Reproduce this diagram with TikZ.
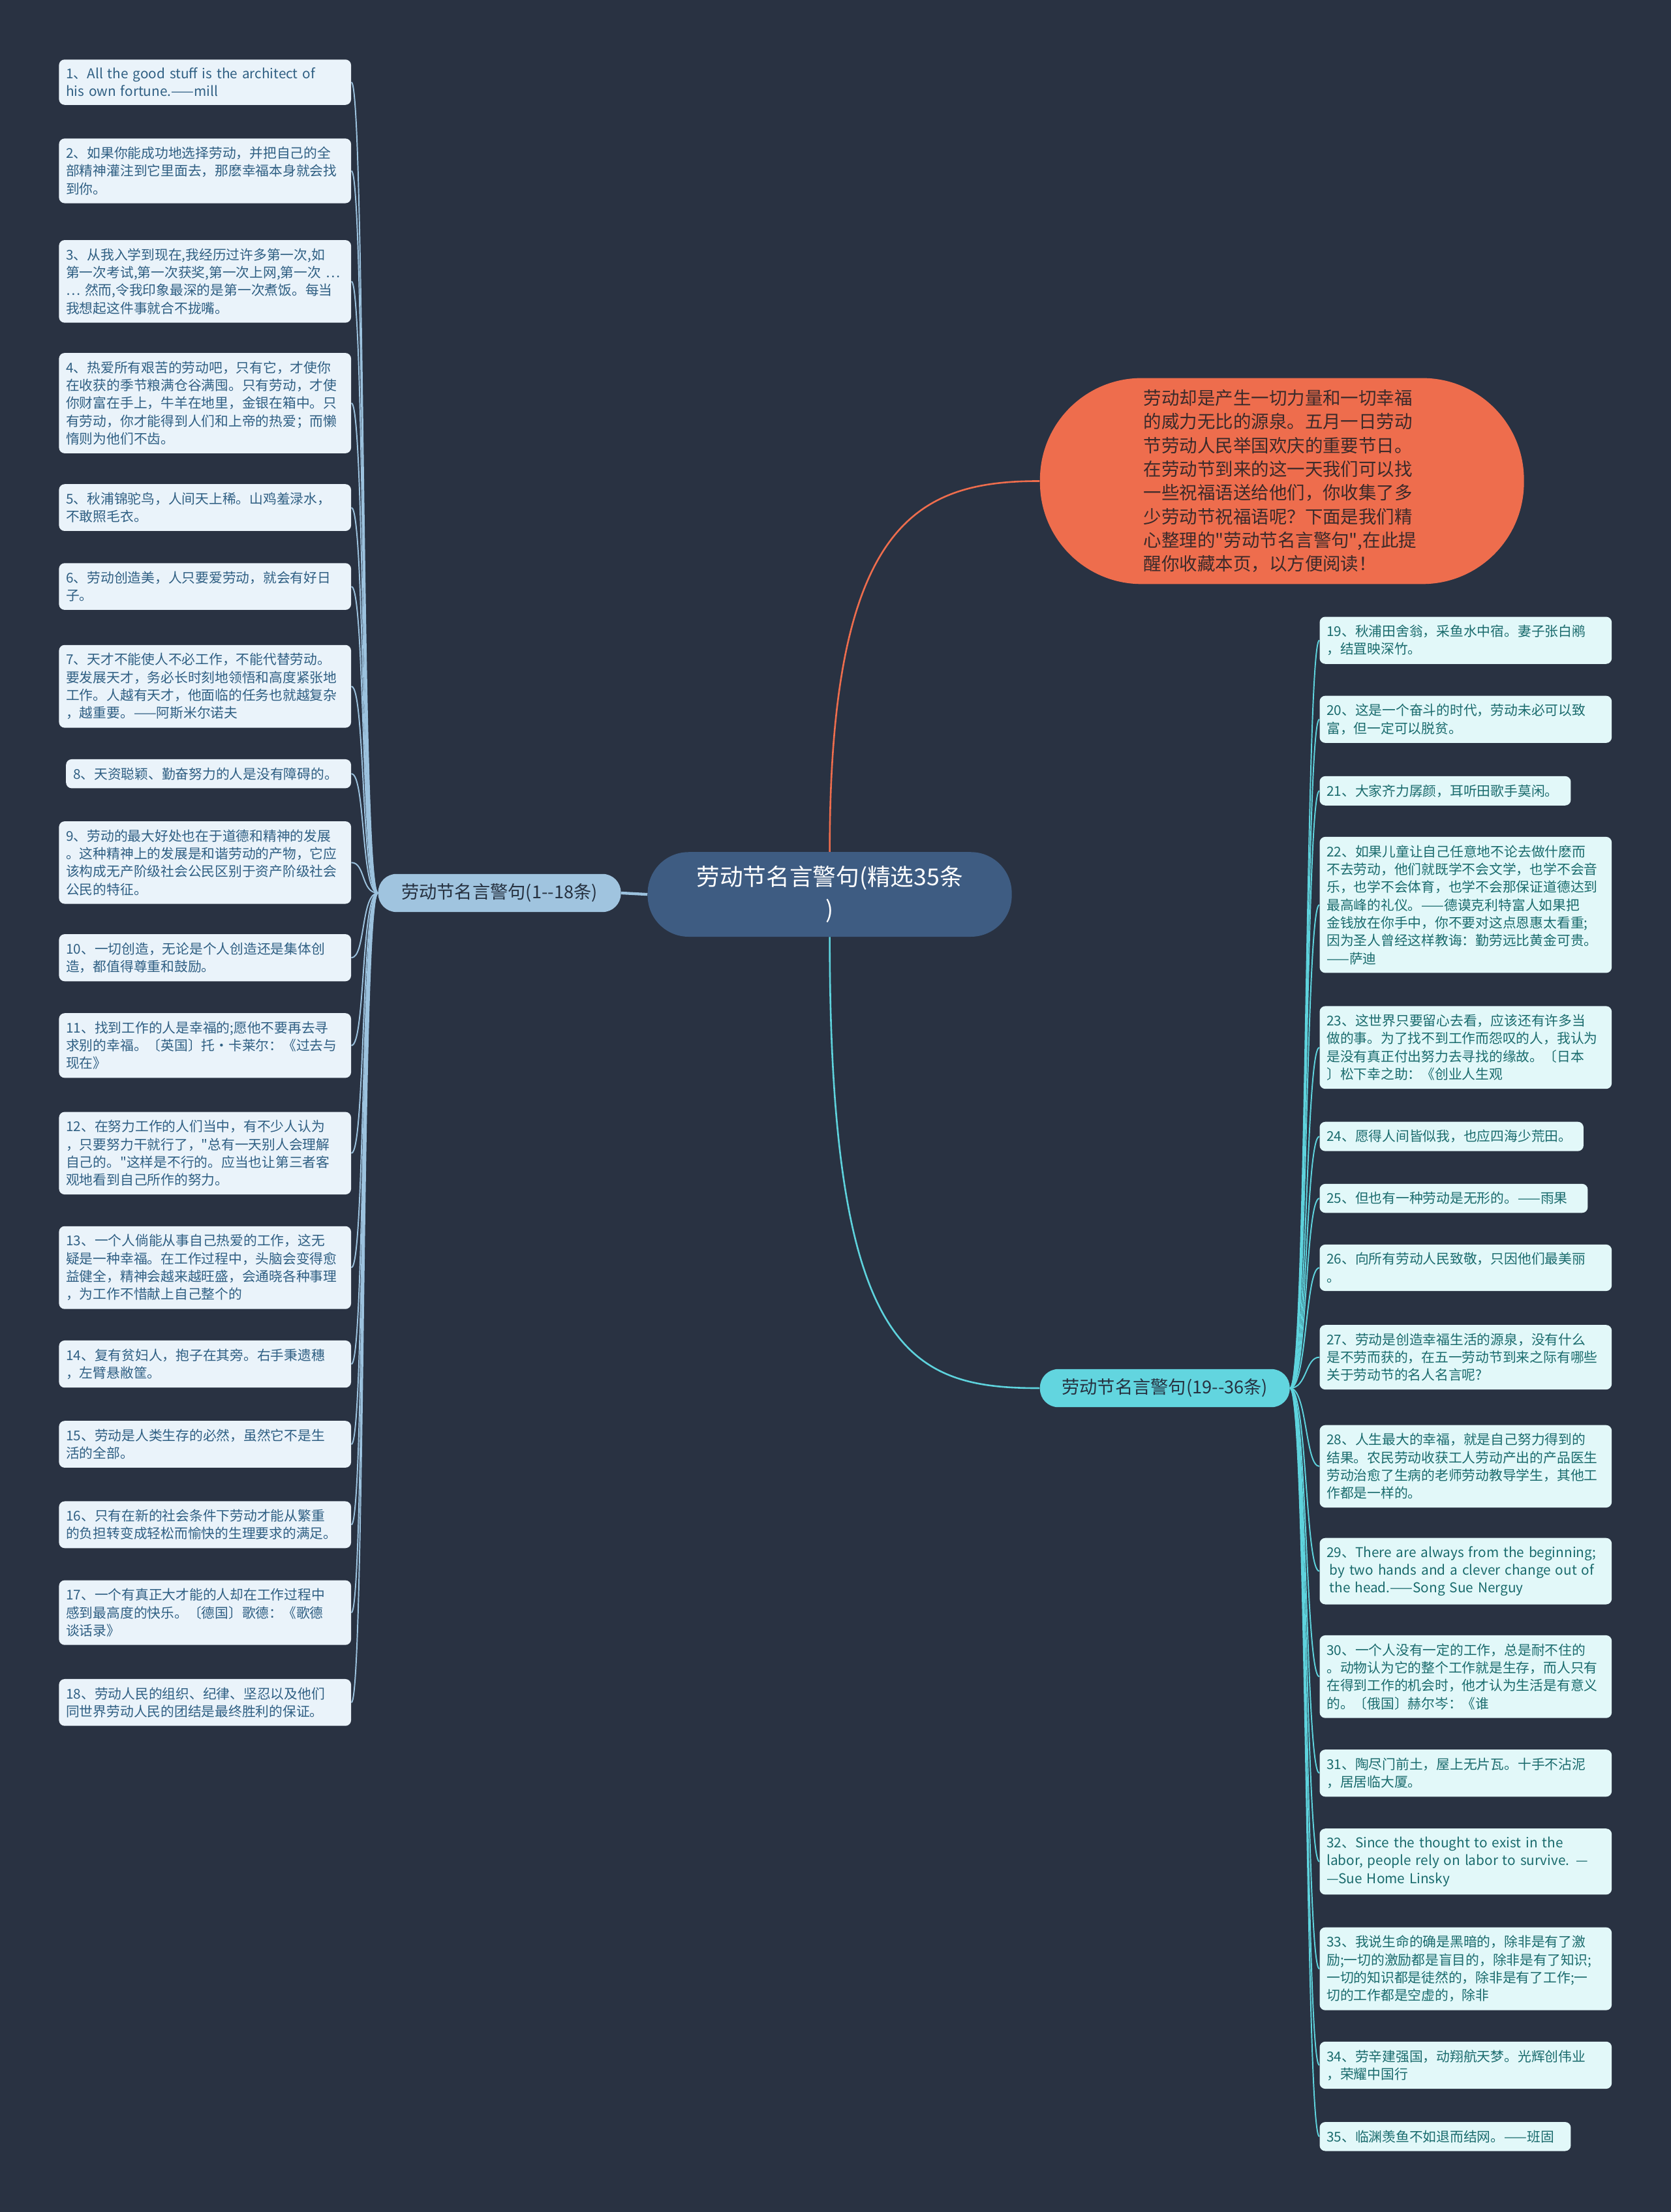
\documentclass[tikz,border=0pt]{standalone}
\usepackage{fontspec}
\setmainfont{Noto Sans CJK SC}
\usetikzlibrary{positioning}
\definecolor{bgnavy}{HTML}{293242}
\definecolor{hubfill}{HTML}{3E5C82}
\definecolor{lsubfill}{HTML}{A0C4DF}
\definecolor{rsubfill}{HTML}{62D5DF}
\definecolor{subtext}{HTML}{263140}
\definecolor{introfill}{HTML}{EE6D4D}
\definecolor{introtext}{HTML}{3B2A2A}
\definecolor{lleaffill}{HTML}{EAF3FA}
\definecolor{lleaftext}{HTML}{2F5F83}
\definecolor{rleaffill}{HTML}{E2F8F9}
\definecolor{rleaftext}{HTML}{1A6B6D}
\definecolor{lwire}{HTML}{9CC2DE}
\definecolor{rwire}{HTML}{5ED3DD}

\begin{document}
\begin{tikzpicture}[x=1pt, y=-1pt,
    leaf/.style={rectangle, rounded corners=4pt, text width=197pt, align=left,
                 inner xsep=5pt, inner ysep=5.8pt,
                 font=\fontsize{9.6}{12.65}\selectfont},
    lleaf/.style={leaf, fill=lleaffill, text=lleaftext, anchor=north east},
    rleaf/.style={leaf, fill=rleaffill, text=rleaftext, anchor=north west},
    subnode/.style={rectangle, rounded corners=13pt, minimum height=27pt,
                    inner sep=0pt, text=subtext, font=\fontsize{12.6}{15}\selectfont},
    lwireline/.style={draw=lwire, line width=0.9pt},
    rwireline/.style={draw=rwire, line width=0.9pt}
  ]
    \fill[bgnavy] (0,0) rectangle (1184,1568);
    \useasboundingbox (0,0) rectangle (1184,1568);

    % centre and branches
    \node[rectangle, fill=hubfill, rounded corners=29pt, minimum width=258pt,
          minimum height=60pt, align=center, text=white,
          font=\fontsize{16.5}{23}\selectfont] (hub) at (588,634)
          {劳动节名言警句(精选35条\\)};

    \node[subnode, fill=lsubfill, minimum width=172pt] (lsub) at (354,633)
          {劳动节名言警句(1-{}-18条)};
    \node[subnode, fill=rsubfill, minimum width=177pt] (rsub) at (825.5,984)
          {劳动节名言警句(19-{}-36条)};

    \node[rectangle, fill=introfill, rounded corners=72pt, minimum width=343pt,
          minimum height=146pt, text width=196pt, align=left, text=introtext,
          font=\fontsize{12.7}{16.8}\selectfont] (intro) at (908.5,341)
          {劳动却是产生一切力量和一切幸福\\的威力无比的源泉。五月一日劳动\\节劳动人民举国欢庆的重要节日。\\在劳动节到来的这一天我们可以找\\一些祝福语送给他们，你收集了多\\少劳动节祝福语呢？下面是我们精\\心整理的\textquotedbl 劳动节名言警句\textquotedbl ,在此提\\醒你收藏本页，以方便阅读！};

    % left leaves
    \node[lleaf] (l1) at (249,42) {1、All the good stuff is the architect of\\his own fortune.——mill};
    \node[lleaf] (l2) at (249,98) {2、如果你能成功地选择劳动，并把自己的全\\部精神灌注到它里面去，那麽幸福本身就会找\\到你。};
    \node[lleaf] (l3) at (249,170) {3、从我入学到现在,我经历过许多第一次,如\\第一次考试,第一次获奖,第一次上网,第一次 …\\… 然而,令我印象最深的是第一次煮饭。每当\\我想起这件事就合不拢嘴。};
    \node[lleaf] (l4) at (249,250) {4、热爱所有艰苦的劳动吧，只有它，才使你\\在收获的季节粮满仓谷满囤。只有劳动，才使\\你财富在手上，牛羊在地里，金银在箱中。只\\有劳动，你才能得到人们和上帝的热爱；而懒\\惰则为他们不齿。};
    \node[lleaf] (l5) at (249,343) {5、秋浦锦驼鸟，人间天上稀。山鸡羞渌水，\\不敢照毛衣。};
    \node[lleaf] (l6) at (249,399) {6、劳动创造美，人只要爱劳动，就会有好日\\子。};
    \node[lleaf] (l7) at (249,457) {7、天才不能使人不必工作，不能代替劳动。\\要发展天才，务必长时刻地领悟和高度紧张地\\工作。人越有天才，他面临的任务也就越复杂\\，越重要。——阿斯米尔诺夫};
    \node[lleaf, text width=192pt] (l8) at (249,538) {8、天资聪颖、勤奋努力的人是没有障碍的。};
    \node[lleaf] (l9) at (249,582) {9、劳动的最大好处也在于道德和精神的发展\\。这种精神上的发展是和谐劳动的产物，它应\\该构成无产阶级社会公民区别于资产阶级社会\\公民的特征。};
    \node[lleaf] (l10) at (249,662) {10、一切创造，无论是个人创造还是集体创\\造，都值得尊重和鼓励。};
    \node[lleaf] (l11) at (249,718) {11、找到工作的人是幸福的;愿他不要再去寻\\求别的幸福。〔英国〕托·卡莱尔：《过去与\\现在》};
    \node[lleaf] (l12) at (249,788) {12、在努力工作的人们当中，有不少人认为\\，只要努力干就行了，\textquotedbl 总有一天别人会理解\\自己的。\textquotedbl 这样是不行的。应当也让第三者客\\观地看到自己所作的努力。};
    \node[lleaf] (l13) at (249,869) {13、一个人倘能从事自己热爱的工作，这无\\疑是一种幸福。在工作过程中，头脑会变得愈\\益健全，精神会越来越旺盛，会通晓各种事理\\，为工作不惜献上自己整个的};
    \node[lleaf] (l14) at (249,950) {14、复有贫妇人，抱子在其旁。右手秉遗穗\\，左臂悬敝筐。};
    \node[lleaf] (l15) at (249,1007) {15、劳动是人类生存的必然，虽然它不是生\\活的全部。};
    \node[lleaf] (l16) at (249,1064) {16、只有在新的社会条件下劳动才能从繁重\\的负担转变成轻松而愉快的生理要求的满足。};
    \node[lleaf] (l17) at (249,1120) {17、一个有真正大才能的人却在工作过程中\\感到最高度的快乐。〔德国〕歌德：《歌德\\谈话录》};
    \node[lleaf] (l18) at (249,1190) {18、劳动人民的组织、纪律、坚忍以及他们\\同世界劳动人民的团结是最终胜利的保证。};

    % right leaves
    \node[rleaf] (r19) at (935,437) {19、秋浦田舍翁，采鱼水中宿。妻子张白鹇\\，结罝映深竹。};
    \node[rleaf] (r20) at (935,493) {20、这是一个奋斗的时代，劳动未必可以致\\富，但一定可以脱贫。};
    \node[rleaf, text width=168pt] (r21) at (935,550) {21、大家齐力孱颜，耳听田歌手莫闲。};
    \node[rleaf] (r22) at (935,593) {22、如果儿童让自己任意地不论去做什麽而\\不去劳动，他们就既学不会文学，也学不会音\\乐，也学不会体育，也学不会那保证道德达到\\最高峰的礼仪。——德谟克利特富人如果把\\金钱放在你手中，你不要对这点恩惠太看重;\\因为圣人曾经这样教诲：勤劳远比黄金可贵。\\——萨迪};
    \node[rleaf] (r23) at (935,713) {23、这世界只要留心去看，应该还有许多当\\做的事。为了找不到工作而怨叹的人，我认为\\是没有真正付出努力去寻找的缘故。〔日本\\〕松下幸之助：《创业人生观};
    \node[rleaf, text width=177pt] (r24) at (935,795) {24、愿得人间皆似我，也应四海少荒田。};
    \node[rleaf, text width=180pt] (r25) at (935,839) {25、但也有一种劳动是无形的。——雨果};
    \node[rleaf] (r26) at (935,882) {26、向所有劳动人民致敬，只因他们最美丽\\。};
    \node[rleaf] (r27) at (935,939) {27、劳动是创造幸福生活的源泉，没有什么\\是不劳而获的，在五一劳动节到来之际有哪些\\关于劳动节的名人名言呢?};
    \node[rleaf] (r28) at (935,1010) {28、人生最大的幸福，就是自己努力得到的\\结果。农民劳动收获工人劳动产出的产品医生\\劳动治愈了生病的老师劳动教导学生，其他工\\作都是一样的。};
    \node[rleaf] (r29) at (935,1090) {29、There are always from the beginning;\\\hspace*{2pt}by two hands and a clever change out of\\\hspace*{2pt}the head.——Song Sue Nerguy};
    \node[rleaf] (r30) at (935,1159) {30、一个人没有一定的工作，总是耐不住的\\。动物认为它的整个工作就是生存，而人只有\\在得到工作的机会时，他才认为生活是有意义\\的。〔俄国〕赫尔岑：《谁};
    \node[rleaf] (r31) at (935,1240) {31、陶尽门前土，屋上无片瓦。十手不沾泥\\，居居临大厦。};
    \node[rleaf] (r32) at (935,1296) {32、Since the thought to exist in the\\labor, people rely on labor to survive. —\\—Sue Home Linsky};
    \node[rleaf] (r33) at (935,1366) {33、我说生命的确是黑暗的，除非是有了激\\励;一切的激励都是盲目的，除非是有了知识;\\一切的知识都是徒然的，除非是有了工作;一\\切的工作都是空虚的，除非};
    \node[rleaf] (r34) at (935,1447) {34、劳辛建强国，动翔航天梦。光辉创伟业\\，荣耀中国行};
    \node[rleaf, text width=168pt] (r35) at (935,1504) {35、临渊羡鱼不如退而结网。——班固};

    % main links
    \draw[lwireline, line width=2pt] (hub.west) -- (lsub.east);
    \draw[draw=introfill, line width=1.2pt] (hub.north) .. controls (588,370) and (650,341) .. (intro.west);
    \draw[rwireline, line width=1.2pt] (hub.south) .. controls (588,960) and (645,984) .. (rsub.west);

    % left links
    \draw[lwireline] (lsub.west) .. controls +(-12,0) and +(10,0) .. (l1.east);
    \draw[lwireline] (lsub.west) .. controls +(-12,0) and +(10,0) .. (l2.east);
    \draw[lwireline] (lsub.west) .. controls +(-12,0) and +(10,0) .. (l3.east);
    \draw[lwireline] (lsub.west) .. controls +(-12,0) and +(10,0) .. (l4.east);
    \draw[lwireline] (lsub.west) .. controls +(-12,0) and +(10,0) .. (l5.east);
    \draw[lwireline] (lsub.west) .. controls +(-12,0) and +(10,0) .. (l6.east);
    \draw[lwireline] (lsub.west) .. controls +(-12,0) and +(10,0) .. (l7.east);
    \draw[lwireline] (lsub.west) .. controls +(-12,0) and +(10,0) .. (l8.east);
    \draw[lwireline] (lsub.west) .. controls +(-12,0) and +(10,0) .. (l9.east);
    \draw[lwireline] (lsub.west) .. controls +(-12,0) and +(10,0) .. (l10.east);
    \draw[lwireline] (lsub.west) .. controls +(-12,0) and +(10,0) .. (l11.east);
    \draw[lwireline] (lsub.west) .. controls +(-12,0) and +(10,0) .. (l12.east);
    \draw[lwireline] (lsub.west) .. controls +(-12,0) and +(10,0) .. (l13.east);
    \draw[lwireline] (lsub.west) .. controls +(-12,0) and +(10,0) .. (l14.east);
    \draw[lwireline] (lsub.west) .. controls +(-12,0) and +(10,0) .. (l15.east);
    \draw[lwireline] (lsub.west) .. controls +(-12,0) and +(10,0) .. (l16.east);
    \draw[lwireline] (lsub.west) .. controls +(-12,0) and +(10,0) .. (l17.east);
    \draw[lwireline] (lsub.west) .. controls +(-12,0) and +(10,0) .. (l18.east);

    % right links
    \draw[rwireline] (rsub.east) .. controls +(12,0) and +(-10,0) .. (r19.west);
    \draw[rwireline] (rsub.east) .. controls +(12,0) and +(-10,0) .. (r20.west);
    \draw[rwireline] (rsub.east) .. controls +(12,0) and +(-10,0) .. (r21.west);
    \draw[rwireline] (rsub.east) .. controls +(12,0) and +(-10,0) .. (r22.west);
    \draw[rwireline] (rsub.east) .. controls +(12,0) and +(-10,0) .. (r23.west);
    \draw[rwireline] (rsub.east) .. controls +(12,0) and +(-10,0) .. (r24.west);
    \draw[rwireline] (rsub.east) .. controls +(12,0) and +(-10,0) .. (r25.west);
    \draw[rwireline] (rsub.east) .. controls +(12,0) and +(-10,0) .. (r26.west);
    \draw[rwireline] (rsub.east) .. controls +(12,0) and +(-10,0) .. (r27.west);
    \draw[rwireline] (rsub.east) .. controls +(12,0) and +(-10,0) .. (r28.west);
    \draw[rwireline] (rsub.east) .. controls +(12,0) and +(-10,0) .. (r29.west);
    \draw[rwireline] (rsub.east) .. controls +(12,0) and +(-10,0) .. (r30.west);
    \draw[rwireline] (rsub.east) .. controls +(12,0) and +(-10,0) .. (r31.west);
    \draw[rwireline] (rsub.east) .. controls +(12,0) and +(-10,0) .. (r32.west);
    \draw[rwireline] (rsub.east) .. controls +(12,0) and +(-10,0) .. (r33.west);
    \draw[rwireline] (rsub.east) .. controls +(12,0) and +(-10,0) .. (r34.west);
    \draw[rwireline] (rsub.east) .. controls +(12,0) and +(-10,0) .. (r35.west);
\end{tikzpicture}
\end{document}
